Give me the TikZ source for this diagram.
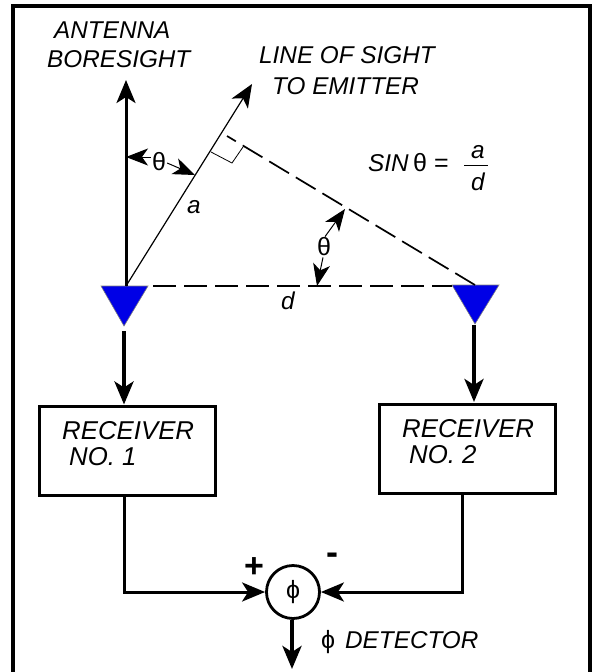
\documentclass[tikz,border=0pt]{standalone}
\usepackage{fontspec}
\setmainfont{Liberation Sans}
\usetikzlibrary{calc, positioning}
\usetikzlibrary{arrows.meta}
\tikzset{
  lbl/.style={font=\fontsize{24.3}{26}\selectfont\itshape, anchor=base west, inner sep=0pt},
  rxlbl/.style={lbl, font=\fontsize{25.8}{28}\selectfont\itshape},
  sym/.style={font=\fontsize{25}{26}\selectfont, inner sep=0pt},
  rxbox/.style={draw, line width=3pt, minimum width=176pt, minimum height=89pt, inner sep=0pt},
  antenna/.style={fill={rgb,255:red,0;green,0;blue,230}, draw=black!50, line width=0.6pt},
  bigtip/.style={-{Stealth[length=23pt, width=19pt, inset=6pt]}},
  heavy/.style={line width=4pt, bigtip},
  medium/.style={line width=3pt, bigtip},
  small/.style={line width=1pt, -{Stealth[length=22pt, width=17pt, inset=6pt]}},
  longdash/.style={dash pattern=on 23pt off 8pt}
}
\begin{document}
\begin{tikzpicture}[x=1pt, y=-1pt]
\useasboundingbox (0,0) rectangle (592,672);
\draw[line width=4pt] (13,672) -- (13,5.5) -- (590,5.5) -- (590,672);

\coordinate (A) at (126,286);
\coordinate (B) at (475,285);
\coordinate (boretip) at (126,80);
\coordinate (lostip) at (252,84);
\coordinate (perpend) at (227,136);
\coordinate (perpmid) at (345,209);
\coordinate (basemid) at (317,286);
\coordinate (losmid) at (195,175);
\coordinate (boremid) at (126,157);

% antennas
\draw[antenna] (101,286) -- (148,286) -- (124,326) -- cycle;
\draw[antenna] (452,285) -- (499,285) -- (475,324) -- cycle;

% geometry
\draw[medium] (A) -- (boretip);
\draw[line width=1.2pt, bigtip] (A) -- (lostip);
\draw[longdash, line width=2.2pt] (153,286) -- (452,286);
\draw[longdash, line width=1.7pt] (B) -- (perpend);
\draw[line width=0.8pt] (211,152) -- (232,163) -- (243,147);

\node[sym] (thetaA) at (159,162) {θ};
\node[sym] (thetaB) at (324,247) {θ};
\draw[small] (thetaA.west) ++(-1,-5) -- (boremid);
\draw[small] (thetaA.east) ++(1,1) -- (losmid);
\draw[small] (thetaB.north) ++(1,-1) -- (perpmid);
\draw[small] (thetaB.south) ++(-1,1) -- (basemid);

\node[lbl] at (54,38) {ANTENNA};
\node[lbl] at (47,67) {BORESIGHT};
\node[lbl] at (259,63) {LINE OF SIGHT};
\node[lbl] at (272,94) {TO EMITTER};
\node[lbl] at (187,213) {a};
\node[lbl] at (281,309) {d};

\node[lbl] (sinlbl) at (368,171) {SIN};
\node[sym, anchor=base west] (sintheta) at (413,171) {θ};
\node[sym, anchor=base west] at (434,171) {=};
\draw[line width=0.8pt] (464,165) -- (488,165);
\node[lbl, anchor=base] at (478,158) {a};
\node[lbl, anchor=base] at (478,190) {d};

% receivers
\node[rxbox] (rxA) at (127,450.5) {};
\node[rxbox] (rxB) at (467,448.5) {};
\node[rxlbl] at (62,439) {RECEIVER};
\node[rxlbl] at (69,465) {NO. 1};
\node[rxlbl] at (402,437) {RECEIVER};
\node[rxlbl] at (409,463) {NO. 2};

\coordinate (antA) at (124,331);
\coordinate (antB) at (474,325);
\draw[heavy] (antA) -- (antA |- rxA.north);
\draw[heavy] (antB) -- (474,402);

% detector
\node[draw, circle, line width=2.8pt, minimum size=53pt, inner sep=0pt, sym] (det) at (293,592) {ϕ};
\draw[medium] (rxA.south -| antA) |- (det.west);
\coordinate (rxBout) at (462,495);
\draw[medium] (rxBout) |- (det.east);
\coordinate (out) at (292,669);
\draw[heavy] (out |- det.south) -- (out);
\node[font=\fontsize{34}{34}\selectfont\bfseries, inner sep=0pt] (plus) at (254,568) {+};
\node[font=\fontsize{36}{36}\selectfont\bfseries, inner sep=0pt] (minus) at (332,559) {-};
\node[sym, anchor=base west] (detphi) at (321,648) {ϕ};
\node[lbl] at (345,648) {DETECTOR};
\end{tikzpicture}
\end{document}
